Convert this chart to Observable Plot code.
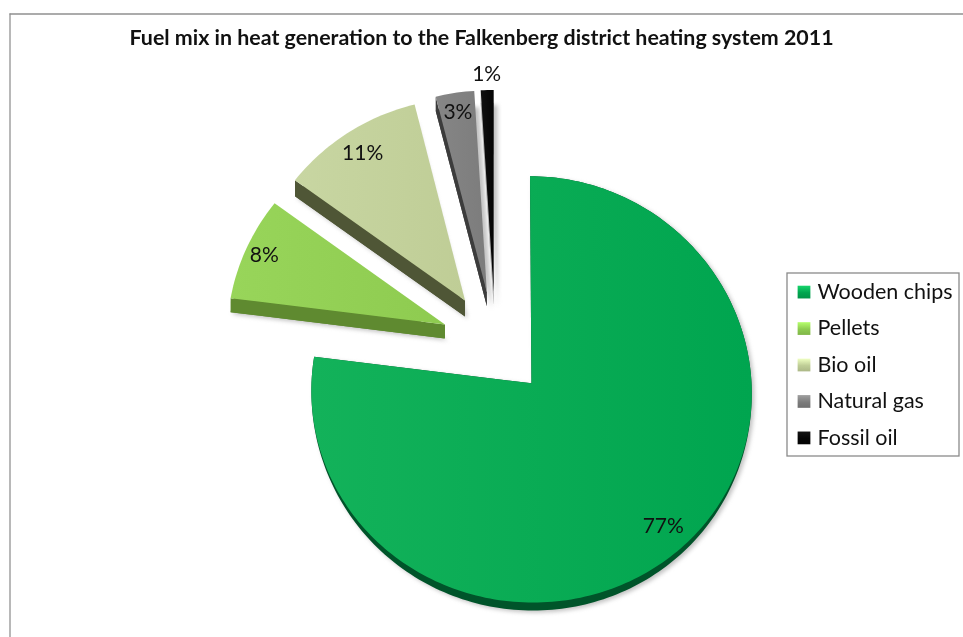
<!DOCTYPE html>
<html>
<head>
<meta charset="utf-8">
<script src="https://cdn.jsdelivr.net/npm/d3@7"></script>
<script src="https://cdn.jsdelivr.net/npm/@observablehq/plot@0.6"></script>
<style>
  html, body { margin: 0; padding: 0; background: #fff; }
  svg { display: block; }
  .soft { filter: blur(2.2px); }
  .crisp { filter: blur(0.55px); }
</style>
</head>
<body>
<div id="chart"></div>
<script>
// ---- data ----
const title = "Fuel mix in heat generation to the Falkenberg district heating system 2011";
const categories = ["Wooden chips", "Pellets", "Bio oil", "Natural gas", "Fossil oil"];
const shares = [77, 8, 11, 3, 1];

// ---- styles ----
const topLight = ["#13b25a", "#98d55a", "#c8d6a2", "#868686", "#111111"];
const topDark  = ["#00a54f", "#8ecb50", "#bfcd96", "#7c7c7c", "#050505"];
const sideColors = ["#00542a", "#5f8a30", "#4f5636", "#3c3c3c", "#b4b4b4"];
const depth = [8, 14, 16, 14, 13];
const shadowShift = [2.5, 2.5, 2.5, 5, 4];
const labelRadius = [0.875, 0.91, 0.875, 0.9, 1.08];

// ---- pie geometry: plane radius, explosion, and a perspective projection ----
const R = 213, explode = 53, W = 963, H = 637;
const project = (u, v) => ({
  x: 494.8 + u * (1.025 - 0.0002 * v),
  y: 343.2 - 0.99 * v + 0.000135 * v * v
});
const rad = d3.scaleLinear().domain([0, 100]).range([0, 2 * Math.PI]);
const starts = d3.cumsum([0, ...shares.slice(0, -1)]);

const slices = categories.map((name, i) => {
  const a0 = rad(starts[i]), a1 = rad(starts[i] + shares[i]), mid = (a0 + a1) / 2;
  const ou = explode * Math.sin(mid), ov = explode * Math.cos(mid);
  const at = (a, r) => project(ou + r * Math.sin(a), ov + r * Math.cos(a));
  const n = Math.max(4, Math.round(shares[i] * 3));
  const angles = d3.range(n + 1).map(k => a0 + (a1 - a0) * k / n);
  const arc = angles.map(a => at(a, R));
  const top = [at(0, 0), ...arc];
  const drop = (pts, d, dx = 0) => pts.map(p => ({x: p.x + dx, y: p.y + d}));
  const edge = [at(0, 0), at(a0, R)];
  const strip = [edge[0], edge[1], ...drop([edge[1], edge[0]], depth[i])];
  // The large slice's rim thins out towards its sides, the small slices keep a constant depth.
  const under = i === 0
    ? [at(0, 0), ...angles.map((a, k) => ({x: arc[k].x, y: arc[k].y + depth[i] * Math.max(0, -Math.cos(a))}))]
    : drop(top, depth[i]);
  return {name, share: shares[i], i, top, strip, under,
          shadow: drop(under, 2, shadowShift[i]), labelAt: at(mid, labelRadius[i] * R)};
});

// ---- legend layout ----
const legendBox = {x1: 787, x2: 959, y1: 273, y2: 456};
const legendRow = d3.scaleBand().domain(categories).range([legendBox.y1, legendBox.y2]).padding(0.02);
const legendItems = categories.map((name, i) => ({
  name, i, cy: legendRow(name) + legendRow.bandwidth() / 2
}));

const defs = () => {
  const d = d3.create("svg:defs");
  slices.forEach(s => {
    const g = d.append("linearGradient").attr("id", "top" + s.i).attr("x1", 0).attr("x2", 1).attr("y1", 0).attr("y2", 0);
    g.append("stop").attr("offset", "0%").attr("stop-color", topLight[s.i]);
    g.append("stop").attr("offset", "100%").attr("stop-color", topDark[s.i]);
    const k = d.append("linearGradient").attr("id", "key" + s.i).attr("x1", 0).attr("x2", 0).attr("y1", 0).attr("y2", 1);
    k.append("stop").attr("offset", "0%").attr("stop-color", d3.color(topLight[s.i]).brighter(0.5));
    k.append("stop").attr("offset", "55%").attr("stop-color", topDark[s.i]);
    k.append("stop").attr("offset", "100%").attr("stop-color", d3.color(topDark[s.i]).darker(0.3));
  });
  return d.node();
};

const font = "Lato, Carlito, Calibri, sans-serif";
const line = (pts, fill, opts = {}) => Plot.line(pts, {x: "x", y: "y", fill, ...opts});

// Drawn back to front so the slices overlap as in the picture.
const order = [0, 1, 2, 3, 4];
const marks = [
  defs,
  // chart frame
  Plot.ruleX([9.5], {y1: 13.5, y2: H, stroke: "#a0a0a0", strokeWidth: 1.5}),
  Plot.ruleY([13.5], {x1: 9.5, x2: W, stroke: "#8f8f8f", strokeWidth: 1.5}),
  // soft shadows
  ...order.map(i => line(slices[i].shadow, "#9a9a9a", {fillOpacity: 0.6, className: "soft"})),
  // slices
  ...order.flatMap(i => [
    line(slices[i].under, sideColors[i], {className: "crisp"}),
    line(slices[i].strip, sideColors[i], {className: "crisp"}),
    line(slices[i].top, `url(#top${i})`, {className: "crisp"})
  ]),
  // data labels
  Plot.text(slices, {
    x: d => d.labelAt.x, y: d => d.labelAt.y,
    text: d => d.share + "%",
    fontFamily: font, fontSize: 21, fill: "#111", lineAnchor: "middle", textAnchor: "middle",
    className: "crisp"
  }),
  // title
  Plot.text([title], {
    x: () => 481, y: () => 38, text: d => d,
    fontFamily: font, fontWeight: 700, fontSize: 21.4, fill: "#111", lineAnchor: "middle",
    className: "crisp"
  }),
  // legend
  Plot.rect([legendBox], {x1: "x1", x2: "x2", y1: "y1", y2: "y2", fill: "#fff", stroke: "#8a8a8a", strokeWidth: 1.3, className: "crisp"}),
  ...legendItems.map(d => Plot.dot([d], {
    x: () => legendBox.x1 + 16.5, y: "cy", symbol: "square", r: 7.2,
    fill: `url(#key${d.i})`, className: "crisp"
  })),
  Plot.text(legendItems, {
    x: () => legendBox.x1 + 30, y: "cy", text: "name",
    textAnchor: "start", lineAnchor: "middle",
    fontFamily: font, fontSize: 21.5, fill: "#111", className: "crisp"
  })
];

const chart = Plot.plot({
  width: W, height: H, margin: 0,
  style: {background: "#fff", overflow: "hidden"},
  x: {domain: [0, W], range: [0, W], axis: null},
  y: {domain: [0, H], range: [0, H], axis: null},
  marks
});
document.getElementById("chart").append(chart);
</script>
</body>
</html>
